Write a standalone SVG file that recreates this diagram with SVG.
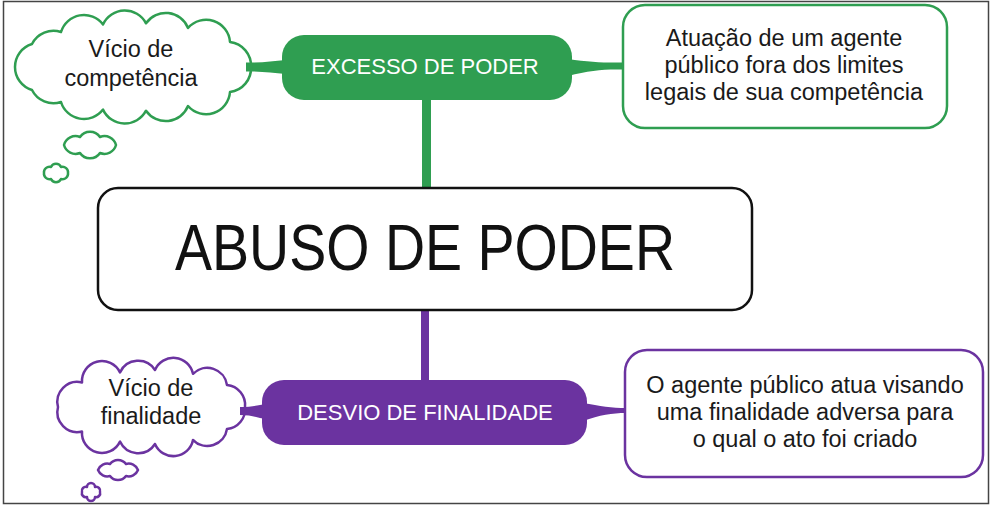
<svg xmlns="http://www.w3.org/2000/svg" width="992" height="506" viewBox="0 0 992 506">
<style>
.t{font-family:"Liberation Sans",Arial,sans-serif;text-anchor:middle}
.dark{fill:#1a1a1a;font-size:23.5px}
.white{fill:#ffffff;font-size:22px}
.gs{fill:none;stroke:#2f9e51;stroke-width:2.5;stroke-linejoin:round}
.ps{fill:none;stroke:#6b33a0;stroke-width:2.5;stroke-linejoin:round}
.gf{fill:#2f9e51}
.pf{fill:#6b33a0}
</style>
<rect x="0" y="0" width="992" height="506" fill="#ffffff"/>
<rect x="3.5" y="1.5" width="985" height="502" fill="none" stroke="#444" stroke-width="1.5"/>
<g id="connectors">
<rect class="gf" x="422" y="96" width="9" height="94"/>
<rect class="pf" x="421" y="306" width="8" height="76"/>
<path class="gf" d="M246,62.5 C262,63 272,61 286,60 L286,74 C272,73 262,71 246,71.5 Z"/>
<path class="gf" d="M568,59 C590,62 605,63 624,62.5 L624,69.5 C605,69 590,70 568,76 Z"/>
<path class="pf" d="M240,407 C252,407 258,405 266,404 L266,419 C258,418 252,415 240,415 Z"/>
<path class="pf" d="M583,403 C600,406 612,408 626,408 L626,413 C612,413 600,415 583,421 Z"/>
</g>
<g id="central">
<rect x="98" y="188" width="654" height="122" rx="20" fill="#fff" stroke="#111" stroke-width="2.5"/>
<text class="t" x="425" y="270" font-size="64" fill="#111" textLength="500" lengthAdjust="spacingAndGlyphs">ABUSO DE PODER</text>
</g>
<g id="excesso">
<rect class="gf" x="282" y="35" width="290" height="65" rx="22"/>
<text class="t white" x="425" y="74">EXCESSO DE PODER</text>
</g>
<g id="excesso-desc">
<rect x="623" y="5" width="324" height="123" rx="22" fill="#fff" class="gs"/>
<text class="t dark" x="784" y="46">Atuação de um agente</text>
<text class="t dark" x="784" y="73">público fora dos limites</text>
<text class="t dark" x="784" y="100">legais de sua competência</text>
</g>
<g id="vicio-competencia">
<path class="gs" fill="#fff" d="M251,67 A24,24 0 0 1 230,92 A24,24 0 0 1 188,106 A24,24 0 0 1 146,110.7 A24,24 0 0 1 103,109.6 A24,24 0 0 1 61,102 A24,24 0 0 1 32,90 A24,24 0 0 1 15,67 A24,24 0 0 1 32,44 A24,24 0 0 1 61,32 A24,24 0 0 1 103,24.4 A24,24 0 0 1 146,23.3 A24,24 0 0 1 188,28 A24,24 0 0 1 230,42 A24,24 0 0 1 251,67 Z"/>
<path class="gs" d="M116,145 A12,12 0 0 1 100,153 A12,12 0 0 1 80,153 A12,12 0 0 1 64,145 A12,12 0 0 1 80,137 A12,12 0 0 1 100,137 A12,12 0 0 1 116,145 Z"/>
<path class="gs" d="M68,173 A5.5,5.5 0 0 1 61,179 A5.5,5.5 0 0 1 51,179 A5.5,5.5 0 0 1 44,173 A5.5,5.5 0 0 1 51,167 A5.5,5.5 0 0 1 61,167 A5.5,5.5 0 0 1 68,173 Z"/>
<text class="t dark" x="131" y="57">Vício de</text>
<text class="t dark" x="131" y="86">competência</text>
</g>
<g id="desvio">
<rect class="pf" x="262" y="380" width="325" height="65" rx="22"/>
<text class="t white" x="425" y="420">DESVIO DE FINALIDADE</text>
</g>
<g id="desvio-desc">
<rect x="625" y="350" width="358" height="127" rx="22" fill="#fff" class="ps"/>
<text class="t dark" x="805" y="393">O agente público atua visando</text>
<text class="t dark" x="805" y="420">uma finalidade adversa para</text>
<text class="t dark" x="805" y="447">o qual o ato foi criado</text>
</g>
<g id="vicio-finalidade">
<path class="ps" fill="#fff" d="M245,407 A20,20 0 0 1 227,429 A20,20 0 0 1 193,440 A20,20 0 0 1 155,444 A20,20 0 0 1 120,441.6 A20,20 0 0 1 82,431.5 A20,20 0 0 1 58,407 A20,20 0 0 1 82,382.5 A20,20 0 0 1 120,372.4 A20,20 0 0 1 155,370 A20,20 0 0 1 193,373.8 A20,20 0 0 1 227,385 A20,20 0 0 1 245,407 Z"/>
<path class="ps" d="M138,470 A10,10 0 0 1 126,476 A10,10 0 0 1 110,476 A10,10 0 0 1 98,470 A10,10 0 0 1 110,464 A10,10 0 0 1 126,464 A10,10 0 0 1 138,470 Z"/>
<path class="ps" d="M100,492 A4,4 0 0 1 95,497 A4,4 0 0 1 87,497 A4,4 0 0 1 82,492 A4,4 0 0 1 87,487 A4,4 0 0 1 95,487 A4,4 0 0 1 100,492 Z"/>
<text class="t dark" x="151" y="396">Vício de</text>
<text class="t dark" x="151" y="424">finalidade</text>
</g>
</svg>
